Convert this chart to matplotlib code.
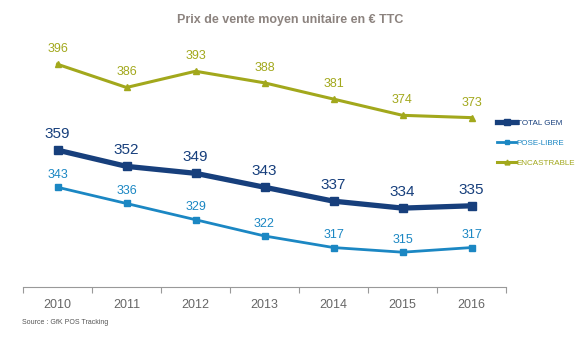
import matplotlib
matplotlib.use("Agg")
import matplotlib.pyplot as plt

plt.rcParams["font.family"] = ["Liberation Sans", "DejaVu Sans"]

years = ["2010", "2011", "2012", "2013", "2014", "2015", "2016"]
total_gem = [359, 352, 349, 343, 337, 334, 335]
pose_libre = [343, 336, 329, 322, 317, 315, 317]
encastrable = [396, 386, 393, 388, 381, 374, 373]

fig = plt.figure(figsize=(5.8, 3.43), dpi=100)
fig.patch.set_facecolor("white")
ax = fig.add_axes([23 / 580, 1 - 287 / 343, 483 / 580, 232 / 343])

x = list(range(len(years)))

series = [
    ("TOTAL GEM", total_gem, "#173f7c", "s", 3.8, 6, 11, 6.5),
    ("POSE-LIBRE", pose_libre, "#1b87c3", "s", 2.0, 4, 9, 4.5),
    ("ENCASTRABLE", encastrable, "#a2a81c", "^", 2.2, 5, 9, 6.5),
]

for name, vals, color, marker, lw, ms, fs, off in series:
    ax.plot(x, vals, color=color, linewidth=lw, marker=marker, markersize=ms,
            label=name, zorder=3)
    for xi, v in zip(x, vals):
        ax.annotate(str(v), (xi, v), xytext=(0, off), textcoords="offset points",
                    ha="center", va="bottom", fontsize=fs, color=color)

ax.set_xlim(-0.5, len(years) - 0.5)
ax.set_ylim(300, 400)
ax.set_xticks([i - 0.5 for i in range(len(years) + 1)], minor=False)
ax.set_xticklabels([""] * (len(years) + 1))
ax.set_xticks(x, minor=True)
ax.set_xticklabels(years, minor=True)
ax.tick_params(axis="x", which="major", length=4, color="#999999")
ax.tick_params(axis="x", which="minor", length=0, labelsize=9,
               labelcolor="#666666", pad=9)
ax.set_yticks([])

for s in ["top", "right", "left"]:
    ax.spines[s].set_visible(False)
ax.spines["bottom"].set_color("#999999")

leg = ax.legend(loc="center left", bbox_to_anchor=(497 / 580, 1 - 143 / 343),
                bbox_transform=fig.transFigure, frameon=False, fontsize=5.8,
                handlelength=2.4, handletextpad=0.05, labelspacing=1.55,
                markerscale=0.7, borderpad=0, borderaxespad=0)
for t, (_, _, color, *_r) in zip(leg.get_texts(), series):
    t.set_color(color)

fig.text(290 / 580, 1 - 20 / 343, "Prix de vente moyen unitaire en € TTC",
         ha="center", va="center", fontsize=9, fontweight="bold", color="#8c837f")
fig.text(22 / 580, 1 - 322 / 343, "Source : GfK POS Tracking",
         ha="left", va="center", fontsize=5, color="#555555")

fig.savefig("out.png", dpi=100, facecolor="white")
